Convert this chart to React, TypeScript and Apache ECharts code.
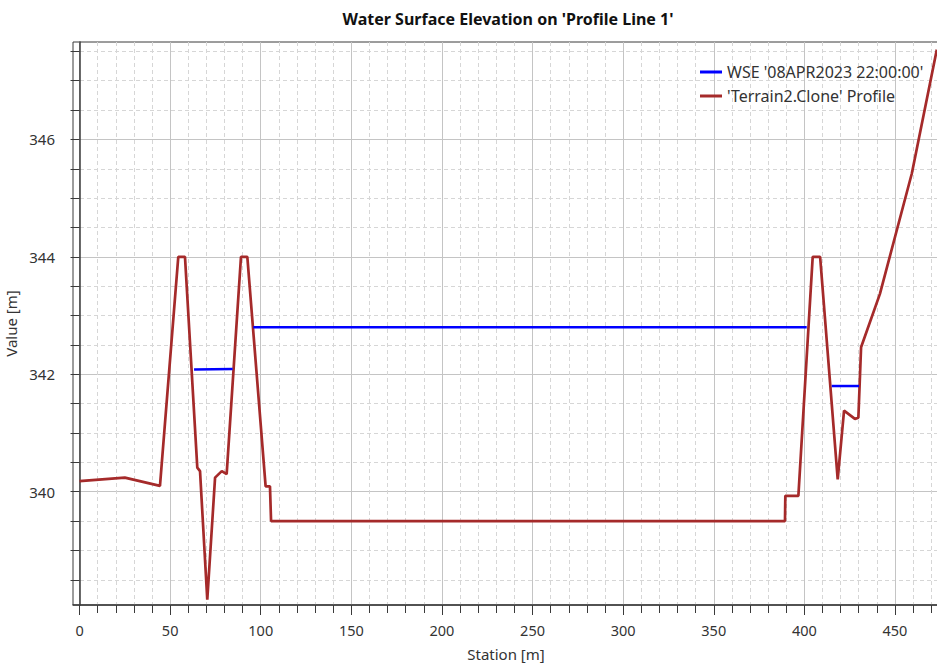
import React, { useEffect, useRef } from "react";
import * as echarts from "echarts";

// Axis tick values
const stationTicks = [0, 50, 100, 150, 200, 250, 300, 350, 400, 450];
const elevationTicks = [340, 342, 344, 346];

// Terrain profile along the line (station [m], elevation [m])
const terrainStation = [
  0, 25, 44.4, 54.5, 58.2, 65, 66.5, 70.5, 74.8, 78.5, 81.2, 89.1, 92.6,
  102.7, 105.1, 105.7, 389.3, 389.5, 396.7, 404.6, 408.7, 418.4, 421.9,
  427.9, 429.8, 431.3, 441.7, 459.3, 473.1,
];
const terrainElevation = [
  340.18, 340.24, 340.1, 344.0, 344.0, 340.41, 340.35, 338.16, 340.24,
  340.35, 340.3, 344.0, 344.0, 340.09, 340.09, 339.5, 339.5, 339.93, 339.93,
  344.0, 344.0, 340.21, 341.38, 341.24, 341.26, 342.46, 343.37, 345.42,
  347.53,
];

// Water surface segments (wet reaches only)
const wseStations = [
  [63.2, 84.5],
  [95.9, 401.3],
  [415.1, 430.2],
];
const wseElevations = [
  [342.08, 342.09],
  [342.8, 342.8],
  [341.8, 341.8],
];

const titleText = "Water Surface Elevation on 'Profile Line 1'";
const wseName = "WSE '08APR2023 22:00:00'";
const terrainName = "'Terrain2.Clone' Profile";

const FONT = "'Noto Sans', 'Open Sans', sans-serif";
const TEXT = "#333333";
const AXIS = "#3a3a3a";

export default function App() {
  const ref = useRef<HTMLDivElement>(null);

  useEffect(() => {
    if (!ref.current) return;
    const chart = echarts.init(ref.current, undefined, { renderer: "svg" });

    const terrainData = terrainStation.map((s, i) => [s, terrainElevation[i]]);
    const wseSeries = wseStations.map((seg, k) => ({
      name: wseName,
      type: "line",
      data: seg.map((s, i) => [s, wseElevations[k][i]]),
      showSymbol: false,
      lineStyle: { color: "#0000ff", width: 2.5 },
      itemStyle: { color: "#0000ff" },
      z: 3,
    }));

    chart.setOption({
      animation: false,
      backgroundColor: "#ffffff",
      textStyle: { fontFamily: FONT },
      graphic: [
        {
          type: "text",
          x: 508,
          y: 19,
          style: {
            text: titleText,
            font: `bold 16px ${FONT}`,
            fill: "#111111",
            textAlign: "center",
            textVerticalAlign: "middle",
          },
        },
      ],
      legend: {
        data: [wseName, terrainName],
        orient: "vertical",
        left: 700,
        top: 64,
        padding: 0,
        itemWidth: 22,
        itemHeight: 3,
        itemGap: 8,
        icon: "rect",
        textStyle: { fontSize: 16, color: TEXT, fontFamily: FONT },
      },
      grid: {
        left: 73,
        top: 42,
        right: -2,
        bottom: 59,
        show: true,
        borderColor: AXIS,
        borderWidth: 1,
        containLabel: false,
        outerBoundsMode: "none",
      },
      xAxis: {
        type: "value",
        min: -3.6,
        max: 474.3,
        minInterval: 50,
        maxInterval: 50,
        name: "Station [m]",
        nameLocation: "middle",
        nameGap: 41,
        nameTextStyle: { fontSize: 15, color: TEXT, fontFamily: FONT },
        axisLine: { show: true, lineStyle: { color: AXIS, width: 1.5 } },
        axisTick: {
          show: true,
          length: 10,
          customValues: stationTicks,
          lineStyle: { color: AXIS },
        },
        minorTick: { show: true, splitNumber: 5, length: 8, lineStyle: { color: AXIS } },
        axisLabel: {
          customValues: stationTicks,
          fontSize: 14.5,
          color: TEXT,
          margin: 17,
          fontFamily: FONT,
        },
        splitLine: { show: true, lineStyle: { color: "#c4c4c4", width: 1 } },
        minorSplitLine: {
          show: true,
          lineStyle: { color: "#d6d6d6", width: 1, type: [4, 3] },
        },
      },
      yAxis: {
        type: "value",
        min: 338.07,
        max: 347.66,
        minInterval: 2,
        maxInterval: 2,
        name: "Value [m]",
        nameLocation: "middle",
        nameGap: 45,
        nameTextStyle: { fontSize: 15, color: TEXT, fontFamily: FONT },
        axisLine: { show: true, lineStyle: { color: AXIS, width: 1.5 } },
        axisTick: {
          show: true,
          length: 9,
          customValues: elevationTicks,
          lineStyle: { color: AXIS },
        },
        minorTick: { show: true, splitNumber: 4, length: 9, lineStyle: { color: AXIS } },
        axisLabel: {
          customValues: elevationTicks,
          fontSize: 15,
          color: TEXT,
          margin: 18,
          fontFamily: FONT,
        },
        splitLine: { show: true, lineStyle: { color: "#c4c4c4", width: 1 } },
        minorSplitLine: {
          show: true,
          lineStyle: { color: "#d6d6d6", width: 1, type: [4, 3] },
        },
      },
      series: [
        {
          name: terrainName,
          type: "line",
          data: terrainData,
          showSymbol: false,
          lineStyle: { color: "#a52a2a", width: 2.7 },
          itemStyle: { color: "#a52a2a" },
          z: 2,
        },
        ...wseSeries,
      ],
    });

    return () => chart.dispose();
  }, []);

  return (
    <div
      ref={ref}
      style={{
        position: "fixed",
        left: 0,
        top: 0,
        width: 937,
        height: 664,
        background: "#ffffff",
      }}
    />
  );
}
